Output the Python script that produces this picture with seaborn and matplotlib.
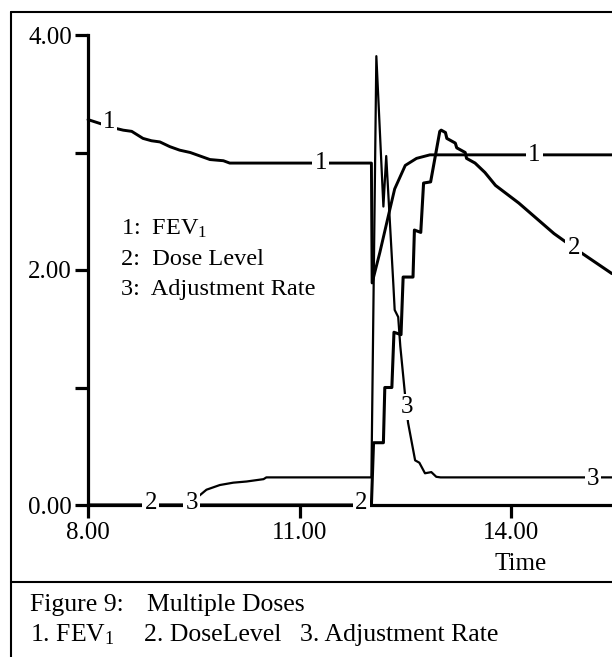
"""
Figure 9: Multiple Doses - STELLA style time plot redrawn with seaborn
"""

import matplotlib
matplotlib.use("Agg")
import matplotlib.pyplot as plt
import seaborn as sns
import pandas as pd
from matplotlib.lines import Line2D

# ─────────────────────────────────────────────
# DATA
# ─────────────────────────────────────────────
fev_time = [8.0, 8.36, 8.50, 8.62, 8.78, 8.90, 9.02, 9.16, 9.30, 9.45, 9.59, 9.73,
            9.92, 10.01, 12.02, 12.03, 12.14, 12.26, 12.35, 12.50, 12.66, 12.85,
            13.00, 15.43]
fev_value = [3.28, 3.21, 3.19, 3.18, 3.12, 3.10, 3.09, 3.05, 3.02, 3.00, 2.97, 2.94,
             2.93, 2.91, 2.91, 1.89, 2.15, 2.46, 2.69, 2.89, 2.95, 2.98,
             2.98, 2.98]

dose_time = [8.0, 12.02, 12.05, 12.19, 12.21, 12.31, 12.34, 12.44, 12.47, 12.61,
             12.63, 12.72, 12.76, 12.86, 12.99, 13.01, 13.07, 13.09, 13.21, 13.23,
             13.35, 13.37, 13.49, 13.63, 13.78, 14.11, 14.61, 14.89, 15.43]
dose_value = [0.0, 0.0, 0.53, 0.53, 1.00, 1.00, 1.47, 1.45, 1.94, 1.94,
              2.34, 2.32, 2.74, 2.75, 3.18, 3.19, 3.17, 3.12, 3.08, 3.04,
              3.00, 2.95, 2.91, 2.83, 2.72, 2.57, 2.31, 2.19, 1.97]

rate_time = [8.0, 9.50, 9.56, 9.59, 9.68, 9.87, 10.06, 10.25, 10.49, 10.53, 12.02,
             12.09, 12.19, 12.23, 12.33, 12.35, 12.40, 12.43, 12.50, 12.54, 12.64,
             12.70, 12.78, 12.87, 12.94, 13.00, 15.43]
rate_value = [0.0, 0.0, 0.07, 0.085, 0.13, 0.17, 0.19, 0.20, 0.22, 0.235, 0.235,
              3.82, 2.54, 2.97, 1.89, 1.66, 1.60, 1.35, 0.92, 0.70, 0.38,
              0.36, 0.27, 0.28, 0.24, 0.235, 0.235]

x_ticks = [8, 11, 14]
x_tick_labels = ["8.00", "11.00", "14.00"]
y_ticks = [0, 1, 2, 3, 4]
y_tick_labels = ["0.00", "", "2.00", "", "4.00"]

legend_items = ["1:  FEV$_{\\mathrm{1}}$", "2:  Dose Level", "3:  Adjustment Rate"]

# on-line series markers: (text, x, y)
line_labels = [("1", 8.30, 3.26), ("1", 11.30, 2.91), ("1", 14.33, 2.98),
               ("2", 8.89, 0.02), ("2", 11.88, 0.02), ("2", 14.89, 2.19),
               ("3", 9.47, 0.02), ("3", 12.52, 0.83), ("3", 15.16, 0.22)]

# ─────────────────────────────────────────────
# STYLE
# ─────────────────────────────────────────────
sns.set_theme(style="white")
plt.rcParams["font.family"] = ["Liberation Serif", "DejaVu Serif"]
plt.rcParams["text.color"] = "black"
plt.rcParams["mathtext.fontset"] = "custom"
plt.rcParams["mathtext.rm"] = "Liberation Serif"
plt.rcParams["mathtext.it"] = "Liberation Serif"

W, H = 612, 657
fig = plt.figure(figsize=(W / 100, H / 100), dpi=100)
fig.patch.set_facecolor("white")

ax = fig.add_axes([88 / W, 1 - 505 / H, (W - 88) / W, 470 / H])
ax.set_facecolor("white")

df_fev = pd.DataFrame({"Time": fev_time, "value": fev_value})
df_dose = pd.DataFrame({"Time": dose_time, "value": dose_value})
df_rate = pd.DataFrame({"Time": rate_time, "value": rate_value})

sns.lineplot(data=df_fev, x="Time", y="value", ax=ax, estimator=None, sort=False,
             color="black", linewidth=2.1)
sns.lineplot(data=df_dose, x="Time", y="value", ax=ax, estimator=None, sort=False,
             color="black", linewidth=2.2)
sns.lineplot(data=df_rate, x="Time", y="value", ax=ax, estimator=None, sort=False,
             color="black", linewidth=1.6)
for ln in ax.lines:
    ln.set_clip_on(False)

ax.set_xlim(8, 8 + (W - 88) / 70.5)
ax.set_ylim(0, 4)

for side in ["top", "right"]:
    ax.spines[side].set_visible(False)
for side in ["left", "bottom"]:
    ax.spines[side].set_linewidth(2.3)
    ax.spines[side].set_color("black")

ax.set_xticks(x_ticks)
ax.set_xticklabels(x_tick_labels)
ax.set_yticks(y_ticks)
ax.set_yticklabels(y_tick_labels)
ax.tick_params(axis="both", direction="out", length=9.5, width=2.3, color="black",
               labelsize=18, labelcolor="black", left=True, bottom=True)
ax.tick_params(axis="x", pad=3)
ax.tick_params(axis="y", pad=2)
ax.set_xlabel("")
ax.set_ylabel("")

# series numbers sitting on the lines
for txt, x, y in line_labels:
    ax.text(x, y, txt, ha="center", va="center", fontsize=18, color="black",
            zorder=10, clip_on=False,
            bbox=dict(boxstyle="square,pad=0.08", facecolor="white", edgecolor="none"))

# legend block inside the plot
for i, item in enumerate(legend_items):
    fig.text(121 / W, 1 - (235 + i * 30) / H, item, fontsize=17.5, ha="left",
             va="baseline", color="black")

fig.text(521 / W, 1 - 570 / H, "Time", fontsize=18, ha="center", va="baseline")

# ─────────────────────────────────────────────
# FRAME + CAPTION
# ─────────────────────────────────────────────
frame_kw = dict(color="black", linewidth=1.5, transform=fig.transFigure)
fig.add_artist(Line2D([11 / W, 1], [1 - 12 / H, 1 - 12 / H], **frame_kw))
fig.add_artist(Line2D([11 / W, 11 / W], [1 - 12 / H, 0], **frame_kw))
fig.add_artist(Line2D([11 / W, 1], [1 - 582 / H, 1 - 582 / H], **frame_kw))

cap_y1 = 1 - 611 / H
cap_y2 = 1 - 641 / H
fig.text(30 / W, cap_y1, "Figure 9:", fontsize=18.5, va="baseline")
fig.text(147 / W, cap_y1, "Multiple Doses", fontsize=18.5, va="baseline")
fig.text(30 / W, cap_y2, "1. FEV$_{\\mathrm{1}}$", fontsize=18.5, va="baseline")
fig.text(144 / W, cap_y2, "2. DoseLevel", fontsize=18.5, va="baseline")
fig.text(300 / W, cap_y2, "3. Adjustment Rate", fontsize=18.5, va="baseline")

fig.savefig("out.png", dpi=100, facecolor="white")
plt.close(fig)
